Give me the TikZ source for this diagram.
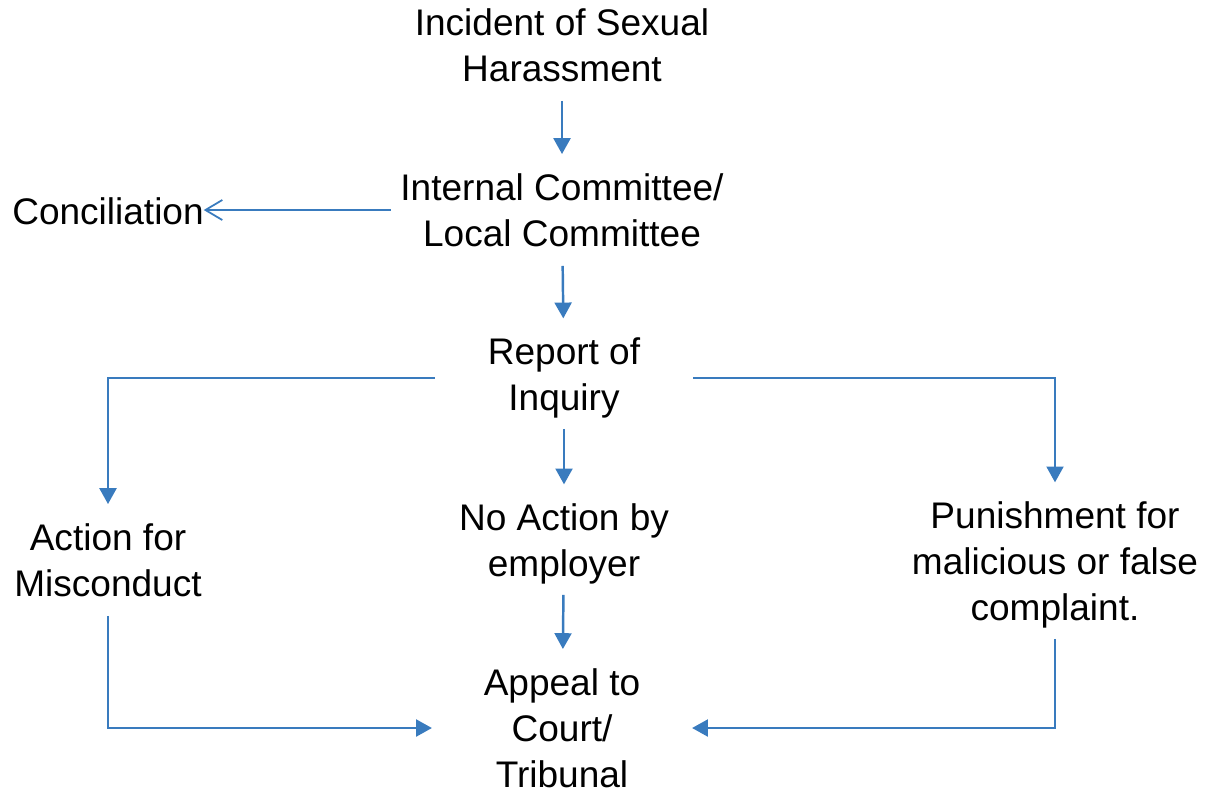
\documentclass[tikz,border=0pt]{standalone}
\usepackage{fontspec}
\setmainfont{Liberation Sans}
\usetikzlibrary{arrows.meta}
\definecolor{flowblue}{RGB}{57,123,190}

\begin{document}
\begin{tikzpicture}[x=0.01cm, y=-0.01cm,
	txt/.style={align=center, inner sep=0pt, outer xsep=0pt, outer ysep=5.5pt,
		font=\fontsize{10.53}{13.1}\selectfont},
	arr/.style={color=flowblue, line width=0.7pt, -{Triangle[length=4.5pt, width=4.8pt]}},
	openarr/.style={color=flowblue, line width=0.5pt, -{Straight Barb[length=4.8pt, width=5.7pt]}}]
	% page 1209 x 790 px
	\useasboundingbox (0,0) rectangle (1209,790);

	\node[txt] (inc) at (562,45) {Incident of Sexual\\Harassment};
	\node[txt] (ic) at (562,210) {Internal Committee/\\Local Committee};
	\node[txt] (con) at (108,211) {Conciliation};
	\node[txt, minimum width=2.58cm] (rep) at (564,378) {Report of\\Inquiry};
	\node[txt] (noa) at (564,544) {No Action by\\employer};
	\node[txt] (amc) at (108,560) {Action for\\Misconduct};
	\node[txt] (pun) at (1055,565) {Punishment for\\malicious or false\\complaint.};
	\node[txt, minimum width=2.6cm] (app) at (562,728) {Appeal to\\Court/\\Tribunal};

	\draw[arr] (inc) -- (ic);
	\draw[openarr, shorten <=2.8pt] (ic.west) -- (ic.west -| con.east);
	\draw[arr] (ic) -- (rep);
	\draw[arr] (rep.west) -| (amc.north);
	\draw[arr] (rep.east) -| (pun.north);
	\draw[arr, shorten <=-2.5pt] (rep) -- (noa);
	\draw[arr, shorten <=-2.5pt] (noa) -- (app);
	\draw[arr] (amc.south) |- (app.west);
	\draw[arr, shorten <=-2.5pt] (pun.south) |- (app.east);
\end{tikzpicture}
\end{document}
